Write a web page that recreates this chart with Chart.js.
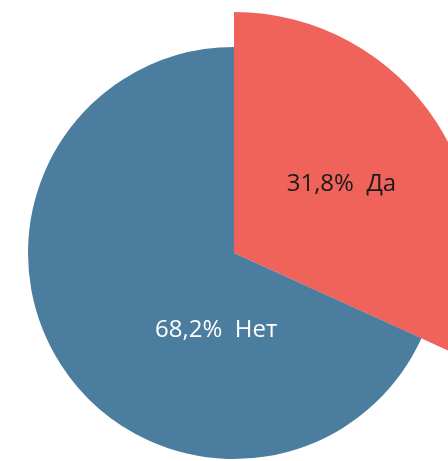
<!DOCTYPE html>
<html>
<head>
<meta charset="utf-8">
<script src="https://cdn.jsdelivr.net/npm/chart.js@4/dist/chart.umd.min.js"></script>
<style>
html,body{margin:0;padding:0;background:#fff;}
#wrap{width:448px;height:461px;position:relative;}
</style>
</head>
<body>
<div id="wrap"><canvas id="c"></canvas></div>
<script>
const categories = ["Да", "Нет"];
const values = [31.8, 68.2];
const valueLabels = ["31,8%", "68,2%"];

const colors = ["#f0635b", "#4a7d9e"];
const labelColors = ["#1a1a1a", "#ffffff"];

// Label placement per slice: angle (deg, clockwise from top; null = bisector), radius fraction of slice radius
const labelPlacement = [{angle: null, r: 0.53}, {angle: 193, r: 0.385}];
const pulledSliceScale = [1.17, 1.0];

const piePlugin = {
  id: 'piePlugin',
  beforeDatasetsDraw(chart) {
    const meta = chart.getDatasetMeta(0);
    meta.data.forEach((arc, i) => {
      if (!arc._baseR) arc._baseR = arc.outerRadius;
      arc.outerRadius = arc._baseR * pulledSliceScale[i];
    });
  },
  afterDatasetsDraw(chart) {
    const ctx = chart.ctx;
    const meta = chart.getDatasetMeta(0);
    ctx.save();
    ctx.font = '24px "Open Sans"';
    ctx.textAlign = 'center';
    ctx.textBaseline = 'middle';
    meta.data.forEach((arc, i) => {
      const p = labelPlacement[i];
      let a;
      if (p.angle === null) a = (arc.startAngle + arc.endAngle) / 2;
      else a = p.angle * Math.PI / 180 - Math.PI / 2;
      const r = arc.outerRadius * p.r;
      const x = arc.x + Math.cos(a) * r;
      const y = arc.y + Math.sin(a) * r;
      ctx.fillStyle = labelColors[i];
      ctx.fillText(valueLabels[i] + "  " + categories[i], x, y);
    });
    ctx.restore();
  }
};

new Chart(document.getElementById('c'), {
  type: 'pie',
  data: {
    labels: categories,
    datasets: [{
      data: values,
      backgroundColor: colors,
      borderWidth: 0,
      hoverOffset: 0,
      clip: false
    }]
  },
  options: {
    responsive: true,
    maintainAspectRatio: false,
    animation: false,
    events: [],
    layout: {padding: {left: 28, right: 8, top: 47, bottom: 2}},
    plugins: {legend: {display: false}, tooltip: {enabled: false}}
  },
  plugins: [piePlugin]
});
</script>
</body>
</html>
